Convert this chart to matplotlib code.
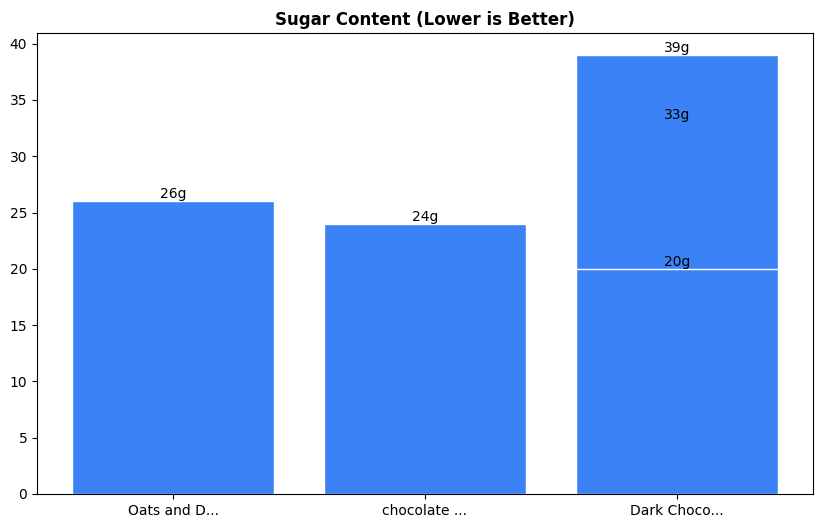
import matplotlib.pyplot as plt

# one entry per bar; the third product has three overlapping bars
products = ["Oats and D...", "chocolate ...", "Dark Choco...", "Dark Choco...", "Dark Choco..."]
sugar = [26, 24, 33, 39, 20]
labels = ["26g", "24g", "33g", "39g", "20g"]

fig = plt.figure(figsize=(8.22, 5.28), dpi=100)
ax = fig.add_axes([0.045, 0.0644, 0.944, 0.8731])

bars = ax.bar(products, sugar, color="#3b82f6", edgecolor="white", width=0.8)

for bar, lab in zip(bars, labels):
    ax.text(bar.get_x() + bar.get_width() / 2, bar.get_height(), lab,
            ha="center", va="bottom", fontsize=10)

ax.set_title("Sugar Content (Lower is Better)", fontweight="bold")

fig.savefig("out.png")
